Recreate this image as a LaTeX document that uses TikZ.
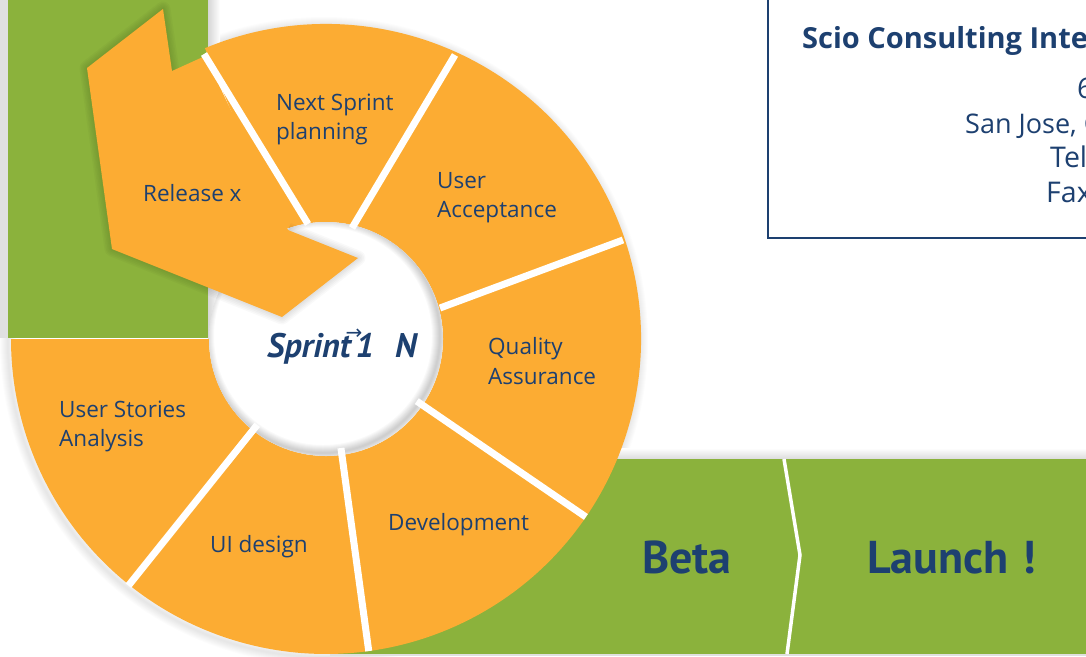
\documentclass[tikz,border=0pt]{standalone}
\usepackage{fontspec}
\setmainfont{Open Sans}
\newfontfamily\ptsans{PT Sans}
\newfontfamily\symfont{DejaVu Sans}
\definecolor{scioorange}{RGB}{252,172,51}
\definecolor{sciogreen}{RGB}{139,178,60}
\definecolor{scioblue}{RGB}{29,64,112}
\begin{document}
\begin{tikzpicture}[x=1pt,y=-1pt]
   \tikzstyle{label} = [text=scioblue, font=\fontsize{22.5}{29.5}\selectfont, align=left, anchor=west, inner sep=0pt]
   \tikzstyle{address} = [text=scioblue, font=\fontsize{28.5}{35}\selectfont, anchor=base west, inner sep=0pt]
   \tikzstyle{stage} = [text=scioblue, font=\ptsans\bfseries\fontsize{46}{50}\selectfont, inner sep=0pt]
   \tikzstyle{divider} = [white, line width=7pt]

  \useasboundingbox (0,0) rectangle (1086,656);
  \clip (0,0) rectangle (1086,656);
  \fill[white] (0,0) rectangle (1086,656);

  % soft shadows
  \foreach \w in {2,4,...,16}
    \draw[black, opacity=0.012, line width=\w pt] (324,341) circle[radius=316];
  \fill[black!12] (0,0) rectangle (8,338);
  \shade[left color=black!16, right color=white] (208,0) rectangle (220,338);
  \shade[top color=white, bottom color=black!14] (330,448) rectangle (1086,459);

  % green bars
  \fill[sciogreen] (8,0) rectangle (208,338);
  \fill[black!12] (330,654) rectangle (1086,656);
  \fill[sciogreen] (330,459) rectangle (1086,654);
  \draw[white, line width=3.5pt] (784,459) -- (800,555) -- (787,654);

  % sprint wheel
  \begin{scope}[shift={(326,339)}]
    \fill[scioorange] (-112.6:315) arc[start angle=-112.6, end angle=180, radius=315]
      -- (180:117) arc[start angle=180, end angle=-112.6, radius=117] -- cycle;
    \fill[white] (0,0) circle[radius=117];
    \begin{scope}
      \clip (0,0) circle[radius=117];
      \foreach \w in {2,4,...,16}
        \draw[black, opacity=0.022, line width=\w pt] (-3,-3) circle[radius=117];
    \end{scope}
  \end{scope}

  \foreach \w in {3,6,...,15}
    \draw[black, opacity=0.025, line width=\w pt, line join=round]
      (172,71) -- (163,9) -- (87,68) -- (112,249) -- (282,317) -- (358,258) -- (288,230);
  \fill[scioorange] (163,9) -- (87,68) -- (112,249) -- (282,317) -- (358,258) -- (288,230)
    -- (250,150) -- (205,56) -- (172,71) -- cycle;

  \draw[divider] (204,54) -- (308,224);
  \draw[divider] (455,55) -- (352,228);
  \draw[divider] (623,240) -- (440,308);
  \begin{scope}[shift={(326,339)}]
    \draw[divider] (34.4:110) -- (34.4:315);
    \draw[divider] (82.2:110) -- (82.2:315);
    \draw[divider] (128.7:110) -- (128.7:316);
  \end{scope}

  \node[label] (release) at (143,193) {Release x};
  \node[label] (next) at (276,119.5) {Next Sprint\\planning};
  \node[label] (accept) at (437,197.5) {User\\Acceptance};
  \node[label] (quality) at (488,361) {Quality\\Assurance};
  \node[label] (stories) at (59,426.5) {User Stories\\Analysis};
  \node[label] (uidesign) at (210,547) {UI design};
  \node[label] (dev) at (388,525) {Development};

  \node[anchor=base west, inner sep=0pt, text=scioblue, font=\ptsans\bfseries\itshape\fontsize{34}{36}\selectfont] (sprint) at (267,357)
    {Sprint\kern-5pt\rlap{\raisebox{18pt}{\symfont\mdseries\upshape\fontsize{20}{20}\selectfont →}}\kern10pt 1\kern21pt N};

  \node[stage, anchor=base] (beta) at (687,573) {Beta};
  \node[stage, anchor=base west] (launch) at (867,573) {Launch\kern14pt!};

  % contact box
  \draw[scioblue, line width=2pt] (768,-10) rectangle (1100,238);
  \node[address, font=\bfseries\fontsize{29}{35}\selectfont] (company) at (802,48) {Scio Consulting Inte};
  \node[address] (street) at (1077,98) {6};
  \node[address, font=\fontsize{27}{35}\selectfont] (city) at (965,133) {San Jose, C};
  \node[address] (tel) at (1050,167) {Tel};
  \node[address] (fax) at (1046,202) {Fax};
\end{tikzpicture}
\end{document}
